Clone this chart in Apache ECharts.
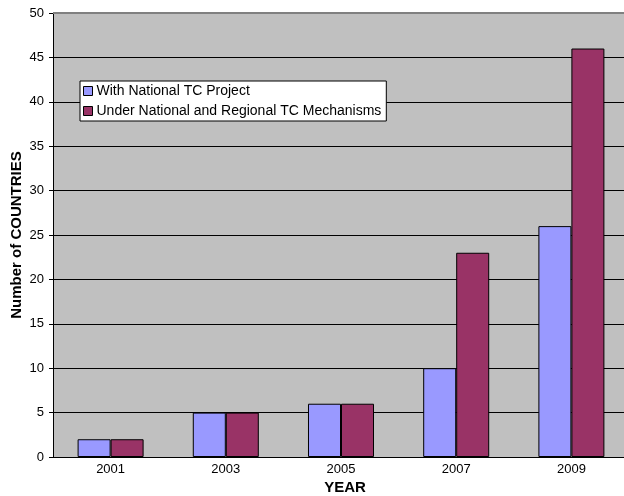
<!DOCTYPE html>
<html>
<head>
<meta charset="utf-8">
<script src="https://cdn.jsdelivr.net/npm/echarts@6/dist/echarts.min.js"></script>
<style>
  html, body { margin: 0; padding: 0; background: #ffffff; }
  #chart { width: 624px; height: 496px; }
</style>
</head>
<body>
<div id="chart"></div>
<script>
// Countries receiving technical cooperation, by year
const years = ['2001', '2003', '2005', '2007', '2009'];
const nationalProject = [2, 5, 6, 10, 26];
const nationalRegional = [2, 5, 6, 23, 46];
const seriesNames = ['With National TC Project', 'Under National and Regional TC Mechanisms'];
const yTicks = [0, 5, 10, 15, 20, 25, 30, 35, 40, 45, 50];

const font = 'Liberation Sans, Arial, sans-serif';
const chart = echarts.init(document.getElementById('chart'), null, { renderer: 'canvas' });

chart.setOption({
  animation: false,
  textStyle: { fontFamily: font },
  grid: {
    left: 53, top: 13, width: 576, height: 444,
    outerBoundsMode: 'none', containLabel: false,
    backgroundColor: '#c0c0c0', show: true, borderWidth: 0
  },
  legend: {
    left: 80, top: 81,
    orient: 'vertical',
    itemWidth: 9, itemHeight: 9, itemGap: 6,
    padding: [3, 5, 3, 3],
    backgroundColor: '#ffffff',
    borderColor: '#000000', borderWidth: 1, borderRadius: 0,
    icon: 'rect',
    textStyle: { fontFamily: font, fontSize: 14, color: '#000', padding: [0, 0, 0, -1] },
    itemStyle: { borderColor: '#000', borderWidth: 1 },
    data: seriesNames
  },
  xAxis: {
    type: 'category',
    data: years,
    name: 'YEAR',
    nameLocation: 'middle',
    nameGap: 23,
    nameMoveOverlap: false,
    nameTextStyle: { fontFamily: font, fontSize: 15, fontWeight: 'bold', color: '#000', padding: [0, 0, 0, 8] },
    axisLine: { lineStyle: { color: '#000', width: 1 } },
    axisTick: { show: false },
    axisLabel: { fontFamily: font, fontSize: 13, color: '#000', margin: 6 }
  },
  yAxis: {
    type: 'value',
    min: 0, max: 50, interval: 5,
    name: 'Number of COUNTRIES',
    nameLocation: 'middle',
    nameGap: 29,
    nameMoveOverlap: false,
    nameTextStyle: { fontFamily: font, fontSize: 15, fontWeight: 'bold', color: '#000' },
    axisLine: { show: true, lineStyle: { color: '#000', width: 1 } },
    axisTick: { show: true, length: 4, lineStyle: { color: '#000' } },
    axisLabel: {
      fontFamily: font, fontSize: 13, color: '#000', margin: 9,
      formatter: v => (yTicks.indexOf(v) >= 0 ? String(v) : '')
    },
    splitLine: { show: true, lineStyle: { color: '#000', width: 1 } }
  },
  series: [
    {
      name: seriesNames[0], type: 'bar', data: nationalProject,
      barGap: '0%', barCategoryGap: '42.7%',
      itemStyle: { color: '#9999ff', borderColor: '#000', borderWidth: 1 }
    },
    {
      name: seriesNames[1], type: 'bar', data: nationalRegional,
      barGap: '0%', barCategoryGap: '42.7%',
      itemStyle: { color: '#993366', borderColor: '#000', borderWidth: 1 }
    }
  ],
  graphic: [
    // plot area top border
    { type: 'line', shape: { x1: 53, y1: 13, x2: 624, y2: 13 }, style: { stroke: '#808080', lineWidth: 2 }, z: 10 }
  ]
});
</script>
</body>
</html>
